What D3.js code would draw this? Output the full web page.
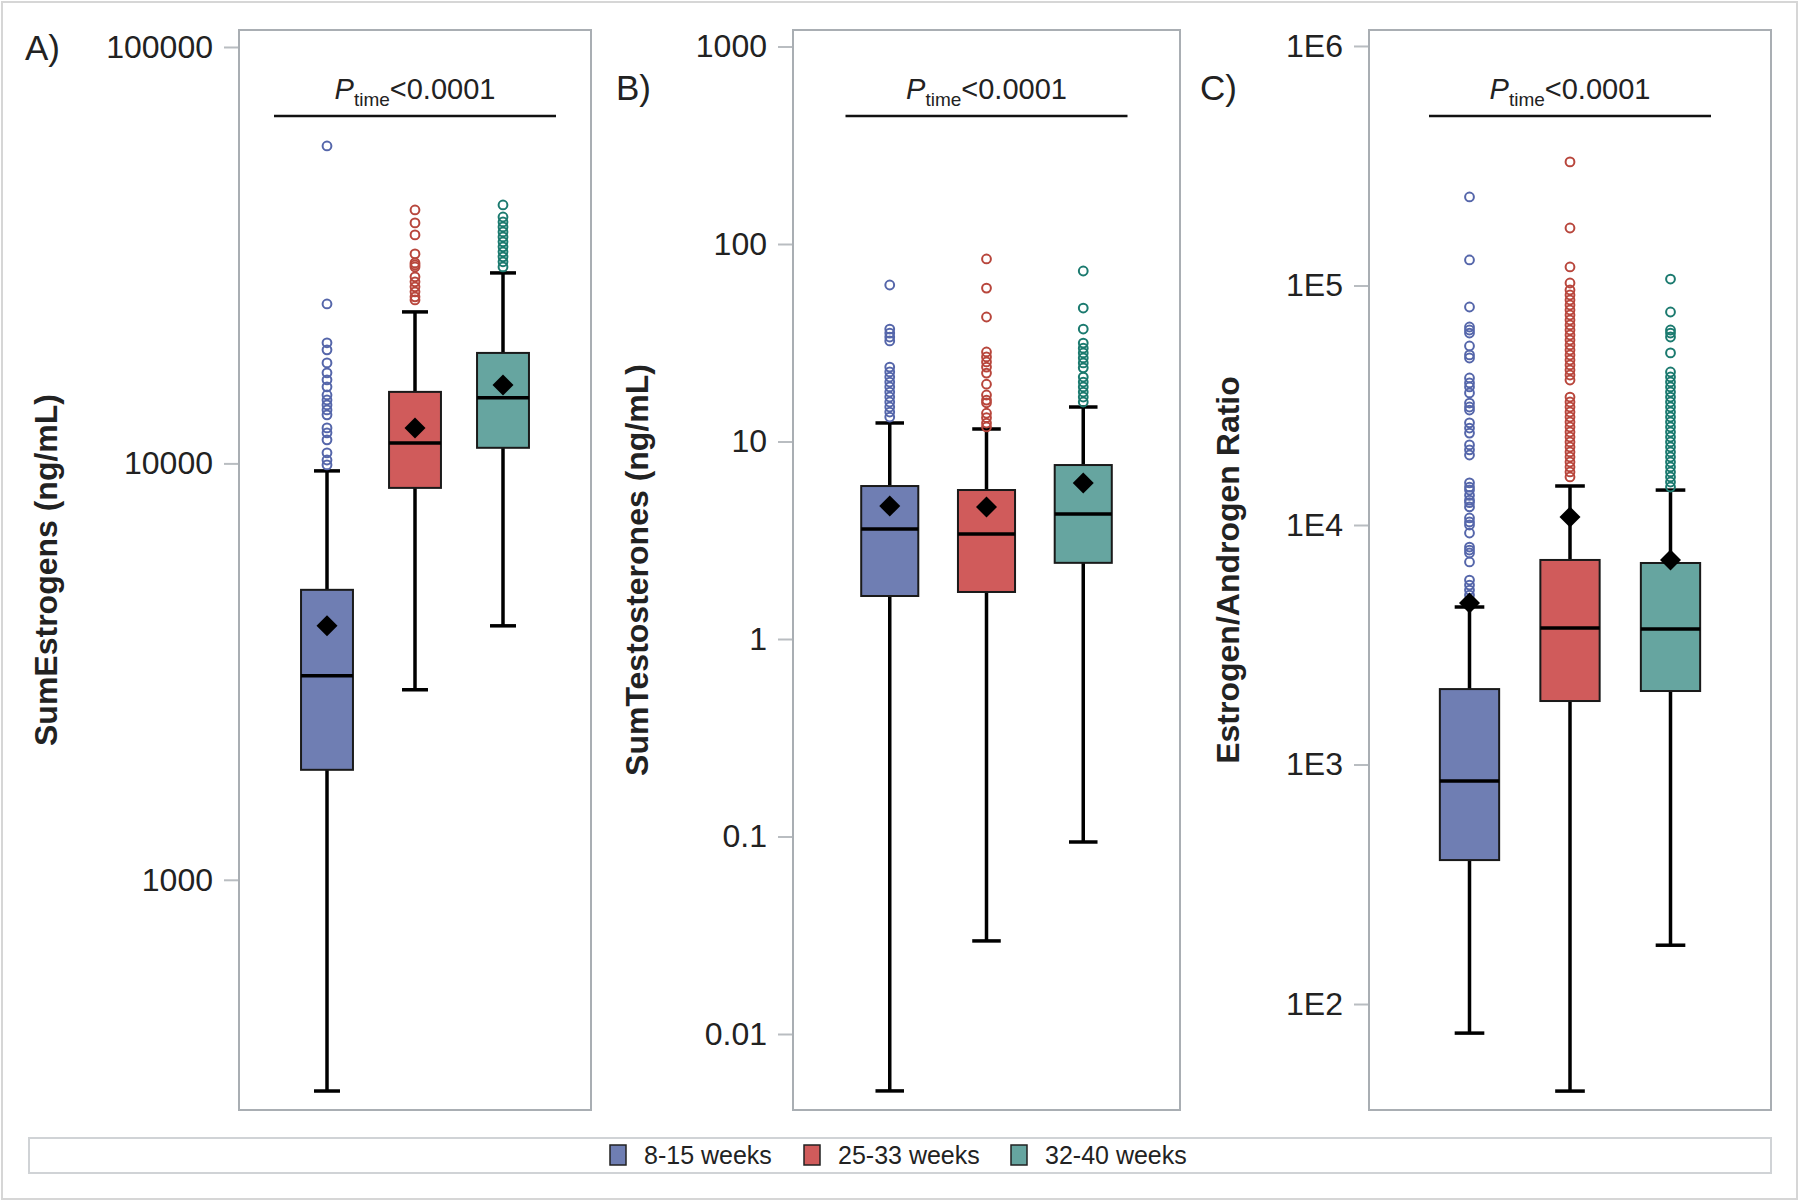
<!DOCTYPE html>
<html><head><meta charset="utf-8">
<script src="https://cdn.jsdelivr.net/npm/d3@7"></script>
<style>body{margin:0;background:#fff}svg{display:block}text{font-family:"Liberation Sans",Arial,sans-serif;fill:#222}</style>
</head><body><svg id="c" width="1800" height="1202"></svg>
<script>
// ---------- data ----------
const groups = ["8-15 weeks","25-33 weeks","32-40 weeks"];
const panelLetters = ["A)","B)","C)"];
const yTitles = ["SumEstrogens (ng/mL)","SumTestosterones (ng/mL)","Estrogen/Androgen Ratio"];
const pLabel = ["P","time","<0.0001"];

const estrogenTicks = [1000,10000,100000];
const estrogenTickLabels = ["1000","10000","100000"];
const estrogenDomain = [280,109850];
const estrogenBoxes = [
 {low:311,q1:1837,median:3090,q3:4970,high:9594,mean:4073},
 {low:2860,q1:8733,median:11200,q3:14850,high:23110,mean:12170},
 {low:4073,q1:10900,median:14370,q3:18420,high:28670,mean:15430}
];
const estrogenOutliers = [
 [57850,24150,19480,18740,17430,16500,15870,15270,14600,14200,13820,13440,13080,12170,11840,11390,10600,10190,9917],
 [40610,37800,35370,31850,30300,29970,29640,28050,27290,26550,25820,25120,24690],
 [41750,39060,38000,36970,35970,34990,34040,33120,32220,31340,30490,29640]
];

const testoTicks = [0.01,0.1,1,10,100,1000];
const testoTickLabels = ["0.01","0.1","1","10","100","1000"];
const testoDomain = [0.004123,1212];
const testoBoxes = [
 {low:0.00515,q1:1.651,median:3.61,q3:5.95,high:12.41,mean:4.71},
 {low:0.0296,q1:1.73,median:3.40,q3:5.68,high:11.57,mean:4.66},
 {low:0.0938,q1:2.43,median:4.29,q3:7.60,high:14.95,mean:6.17}
];
const testoOutliers = [
 [62.0,37.1,35.4,33.8,32.3,23.8,22.5,21.2,20.0,18.9,17.8,16.8,15.85,14.95,14.1,13.3],
 [84.0,59.8,42.7,28.4,26.8,25.3,23.8,22.2,19.5,17.2,16.2,15.7,13.9,13.2,12.4,11.85],
 [73.0,47.4,37.1,31.5,29.7,28.1,26.5,25.0,23.6,21.2,20.0,18.9,17.8,16.8,15.85]
];

const ratioTicks = [100,1000,10000,100000,1000000];
const ratioTickLabels = ["1E2","1E3","1E4","1E5","1E6"];
const ratioDomain = [36.1,1166000];
const ratioBoxes = [
 {low:75.6,q1:399,median:853,q3:2065,high:4546,mean:4724},
 {low:43.3,q1:1841,median:3715,q3:7145,high:14550,mean:10800},
 {low:176,q1:2027,median:3680,q3:6940,high:13990,mean:7145}
];
const ratioOutliers = [
 [234200,127800,81300,67100,65200,63300,55900,51300,49800,41100,39200,37700,35600,32300,31100,30200,26700,25400,24200,21600,20600,19600,15000,14400,14000,13300,12700,12400,11900,10700,10300,10000,9260,8090,7860,7640,7010,5890,5610,5350,5100,4860],
 [328000,173800,119500,102400,95760,91260,86990,82900,79000,75300,71760,68420,65200,62140,59220,56450,53790,51270,48860,46580,44390,42300,40310,34220,32620,31090,29630,28240,26920,25660,24450,23300,22220,21170,20180,19230,18320,17470,16650,15870],
 [106400,77500,65200,63300,60950,52300,43540,41500,39550,37700,35920,34220,32620,31090,29630,28240,26920,25660,24450,23300,22220,21170,20180,19230,18320,17470,16650,15870,15120,14410]
];

// ---------- style ----------
const fillColors = ["#6F7EB3","#D05B5B","#66A5A0"];
const outlierColors = ["#5566aa","#b8463c","#1b7a6f"];
const frameColor = "#a9aeb3";

const panels = [
 {x0:239,x1:591,ticks:estrogenTicks,labels:estrogenTickLabels,domain:estrogenDomain,boxes:estrogenBoxes,outliers:estrogenOutliers,titleX:46,letterX:25,letterY:60},
 {x0:793,x1:1180,ticks:testoTicks,labels:testoTickLabels,domain:testoDomain,boxes:testoBoxes,outliers:testoOutliers,titleX:637,letterX:616,letterY:100},
 {x0:1369,x1:1771,ticks:ratioTicks,labels:ratioTickLabels,domain:ratioDomain,boxes:ratioBoxes,outliers:ratioOutliers,titleX:1228,letterX:1200,letterY:100}
];
const yTop = 30, yBot = 1110;

const svg = d3.select("#c");
svg.append("rect").attr("x",2).attr("y",2).attr("width",1795).attr("height",1197)
  .attr("fill","#fff").attr("stroke","#d6d6d6").attr("stroke-width",2);

panels.forEach((p,i)=>{
  const g = svg.append("g");
  const y = d3.scaleLog().domain(p.domain).range([yBot,yTop]);
  const x = d3.scalePoint().domain(groups).range([p.x0,p.x1]).padding(1);
  const step = x.step();
  const bw = step*0.59, cw = bw*0.5;

  // frame
  g.append("rect").attr("x",p.x0).attr("y",yTop).attr("width",p.x1-p.x0).attr("height",yBot-yTop)
    .attr("fill","none").attr("stroke",frameColor).attr("stroke-width",2);

  // axis
  const ax = g.append("g").attr("transform",`translate(${p.x0-1},0)`)
    .call(d3.axisLeft(y).tickValues(p.ticks).tickFormat((d,k)=>p.labels[k]).tickSize(14).tickPadding(11));
  ax.select(".domain").remove();
  ax.selectAll(".tick line").attr("stroke","#b9bdc1").attr("stroke-width",2);
  ax.selectAll(".tick text").attr("font-size",32).attr("fill","#222")
    .attr("font-family",'"Liberation Sans",Arial,sans-serif');

  // title
  g.append("text").attr("transform",`translate(${p.titleX},${(yTop+yBot)/2}) rotate(-90)`)
    .attr("text-anchor","middle").attr("dominant-baseline","central")
    .attr("font-size",32).attr("font-weight","bold").text(yTitles[i]);
  g.append("text").attr("x",p.letterX).attr("y",p.letterY).attr("font-size",35).text(panelLetters[i]);

  // p-value
  const cx = (p.x0+p.x1)/2;
  const t = g.append("text").attr("x",cx).attr("y",99).attr("text-anchor","middle").attr("font-size",29);
  t.append("tspan").attr("font-style","italic").text(pLabel[0]);
  t.append("tspan").attr("font-size",19).attr("dy",7).text(pLabel[1]);
  t.append("tspan").attr("dy",-7).text(pLabel[2]);
  g.append("line").attr("x1",cx-141).attr("x2",cx+141).attr("y1",116).attr("y2",116)
    .attr("stroke","#111").attr("stroke-width",2.5);

  // boxes
  p.boxes.forEach((b,k)=>{
    const c = x(groups[k]);
    const bg = g.append("g");
    bg.append("line").attr("x1",c).attr("x2",c).attr("y1",y(b.low)).attr("y2",y(b.high))
      .attr("stroke","#000").attr("stroke-width",3.5);
    [b.low,b.high].forEach(v=>bg.append("line").attr("x1",c-cw/2).attr("x2",c+cw/2)
      .attr("y1",y(v)).attr("y2",y(v)).attr("stroke","#000").attr("stroke-width",3.5));
    bg.append("rect").attr("x",c-bw/2).attr("y",y(b.q3)).attr("width",bw).attr("height",y(b.q1)-y(b.q3))
      .attr("fill",fillColors[k]).attr("stroke","#1a1a1a").attr("stroke-width",2);
    bg.append("line").attr("x1",c-bw/2).attr("x2",c+bw/2).attr("y1",y(b.median)).attr("y2",y(b.median))
      .attr("stroke","#000").attr("stroke-width",3.5);
    bg.selectAll("circle.o").data(p.outliers[k]).enter().append("circle")
      .attr("cx",c).attr("cy",d=>y(d)).attr("r",4.4)
      .attr("fill","none").attr("stroke",outlierColors[k]).attr("stroke-width",2);
    const my = y(b.mean);
    bg.append("path").attr("d",`M${c},${my-10.5}L${c+10.5},${my}L${c},${my+10.5}L${c-10.5},${my}Z`).attr("fill","#000");
  });
});

// legend
svg.append("rect").attr("x",29).attr("y",1138).attr("width",1742).attr("height",35)
  .attr("fill","#fff").attr("stroke","#d0d3d6").attr("stroke-width",2);
const legX = [610,804,1011];
groups.forEach((gname,k)=>{
  svg.append("rect").attr("x",legX[k]).attr("y",1145).attr("width",16).attr("height",20)
    .attr("fill",fillColors[k]).attr("stroke","#222").attr("stroke-width",1.5);
  svg.append("text").attr("x",legX[k]+34).attr("y",1164).attr("font-size",25).text(gname);
});
</script></body></html>
